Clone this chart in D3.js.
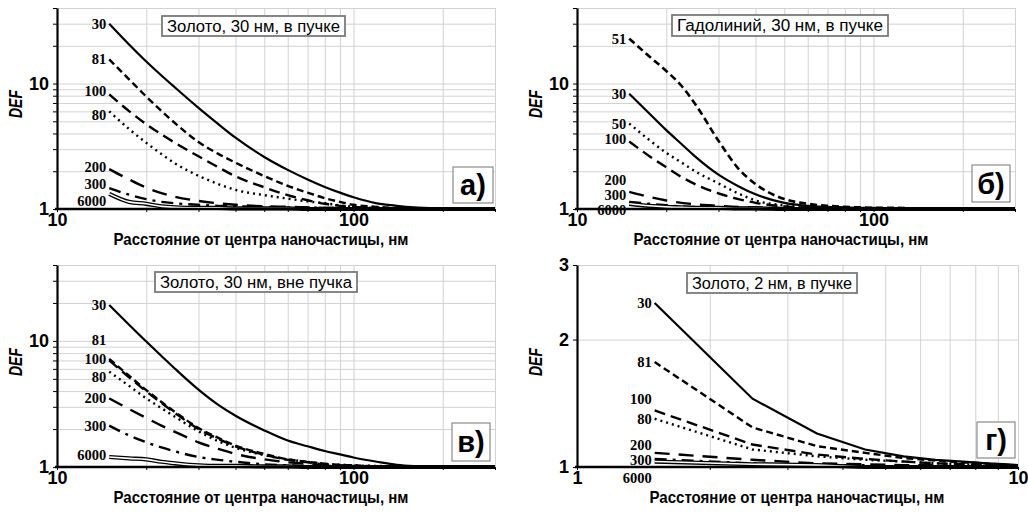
<!DOCTYPE html>
<html>
<head>
<meta charset="utf-8">
<script src="https://cdn.jsdelivr.net/npm/d3@7"></script>
<style>
  body { margin: 0; background: #fff; }
</style>
</head>
<body>
<svg id="chart" width="1028" height="516"></svg>
<script>
////////////////////////////////////////////////////////////////////////
// Data (DEF vs distance from nanoparticle centre)

// distance points, nm
const distLarge = [15, 17.5, 20, 22.5, 25, 30, 35, 40, 50, 60, 70, 80, 90, 100, 120, 140, 160, 200, 250, 300];
const distSmall = [1.5, 2.5, 3.5, 4.5, 5.5, 6.5, 7.5, 8.5, 9.5, 10];

// a) gold 30 nm, in beam
const auInLabels = ["30", "81", "100", "80", "200", "300", "6000"];
const auInValues = [
  [30, 20.5, 15, 11.6, 9.3, 6.4, 4.75, 3.7, 2.6, 2.05, 1.72, 1.5, 1.35, 1.24, 1.11, 1.06, 1.03, 1.01, 1.0, 1.0],
  [15.6, 10.8, 7.87, 6.04, 4.83, 3.42, 2.75, 2.34, 1.83, 1.53, 1.35, 1.22, 1.14, 1.08, 1.04, 1.02, 1.01, 1.0, 1.0, 1.0],
  [8.2, 6.03, 4.74, 3.93, 3.37, 2.63, 2.15, 1.82, 1.49, 1.29, 1.175, 1.10, 1.06, 1.04, 1.02, 1.01, 1.0, 1.0, 1.0, 1.0],
  [6.0, 4.34, 3.37, 2.74, 2.31, 1.84, 1.58, 1.42, 1.29, 1.21, 1.15, 1.11, 1.07, 1.04, 1.02, 1.01, 1.0, 1.0, 1.0, 1.0],
  [2.08, 1.72, 1.48, 1.34, 1.25, 1.16, 1.11, 1.08, 1.05, 1.04, 1.03, 1.02, 1.02, 1.01, 1.01, 1.0, 1.0, 1.0, 1.0, 1.0],
  [1.47, 1.3, 1.2, 1.14, 1.11, 1.08, 1.06, 1.05, 1.04, 1.03, 1.03, 1.02, 1.02, 1.01, 1.0, 1.0, 1.0, 1.0, 1.0, 1.0],
  [1.32, 1.14, 1.1, 1.05, 1.03, 1.02, 1.02, 1.01, 1.01, 1.01, 1.0, 1.0, 1.0, 1.0, 1.0, 1.0, 1.0, 1.0, 1.0, 1.0]
];

// б) gadolinium 30 nm, in beam
const gdInLabels = ["51", "30", "50", "100", "200", "300", "6000"];
const gdInValues = [
  [22.8, 16.5, 12.6, 9.6, 6.9, 3.5, 2.1, 1.58, 1.2, 1.1, 1.06, 1.04, 1.03, 1.02, 1.02, 1.01, 1.01, 1.0, 1.0, 1.0],
  [8.3, 5.8, 4.25, 3.3, 2.63, 1.88, 1.52, 1.31, 1.12, 1.06, 1.04, 1.03, 1.02, 1.02, 1.01, 1.01, 1.0, 1.0, 1.0, 1.0],
  [4.8, 3.56, 2.8, 2.35, 2.0, 1.6, 1.33, 1.17, 1.07, 1.04, 1.03, 1.02, 1.01, 1.01, 1.0, 1.0, 1.0, 1.0, 1.0, 1.0],
  [3.45, 2.65, 2.15, 1.8, 1.58, 1.33, 1.2, 1.12, 1.05, 1.03, 1.02, 1.02, 1.01, 1.01, 1.0, 1.0, 1.0, 1.0, 1.0, 1.0],
  [1.37, 1.25, 1.17, 1.12, 1.09, 1.06, 1.04, 1.03, 1.02, 1.01, 1.01, 1.0, 1.0, 1.0, 1.0, 1.0, 1.0, 1.0, 1.0, 1.0],
  [1.14, 1.1, 1.07, 1.05, 1.04, 1.03, 1.02, 1.02, 1.01, 1.0, 1.0, 1.0, 1.0, 1.0, 1.0, 1.0, 1.0, 1.0, 1.0, 1.0],
  [1.1, 1.06, 1.04, 1.03, 1.02, 1.02, 1.01, 1.01, 1.0, 1.0, 1.0, 1.0, 1.0, 1.0, 1.0, 1.0, 1.0, 1.0, 1.0, 1.0]
];

// в) gold 30 nm, outside beam
const auOutLabels = ["30", "81", "100", "80", "200", "300", "6000"];
const auOutValues = [
  [19.3, 13.45, 9.89, 7.6, 6.02, 4.11, 3.11, 2.55, 1.95, 1.62, 1.46, 1.34, 1.26, 1.19, 1.10, 1.04, 1.015, 1.0, 1.0, 1.0],
  [7.2, 5.29, 4.07, 3.28, 2.73, 2.04, 1.70, 1.48, 1.27, 1.15, 1.10, 1.06, 1.04, 1.03, 1.01, 1.0, 1.0, 1.0, 1.0, 1.0],
  [7.0, 5.15, 3.98, 3.22, 2.68, 2.0, 1.67, 1.46, 1.25, 1.14, 1.09, 1.05, 1.03, 1.02, 1.01, 1.0, 1.0, 1.0, 1.0, 1.0],
  [5.7, 4.4, 3.5, 2.93, 2.5, 1.92, 1.6, 1.42, 1.24, 1.15, 1.1, 1.06, 1.04, 1.03, 1.02, 1.01, 1.0, 1.0, 1.0, 1.0],
  [3.5, 2.88, 2.45, 2.13, 1.9, 1.57, 1.39, 1.27, 1.15, 1.09, 1.06, 1.04, 1.03, 1.02, 1.01, 1.0, 1.0, 1.0, 1.0, 1.0],
  [2.13, 1.78, 1.57, 1.43, 1.33, 1.2, 1.14, 1.1, 1.05, 1.03, 1.02, 1.02, 1.01, 1.0, 1.0, 1.0, 1.0, 1.0, 1.0, 1.0],
  [1.2, 1.17, 1.15, 1.1, 1.07, 1.03, 1.02, 1.02, 1.01, 1.01, 1.0, 1.0, 1.0, 1.0, 1.0, 1.0, 1.0, 1.0, 1.0, 1.0]
];

// г) gold 2 nm, in beam
const auSmallLabels = ["30", "81", "100", "80", "200", "300", "6000"];
const auSmallValues = [
  [2.44, 1.45, 1.2, 1.1, 1.06, 1.04, 1.03, 1.02, 1.015, 1.01],
  [1.77, 1.24, 1.12, 1.08, 1.05, 1.035, 1.025, 1.02, 1.01, 1.01],
  [1.36, 1.13, 1.07, 1.045, 1.03, 1.02, 1.015, 1.01, 1.01, 1.0],
  [1.30, 1.10, 1.06, 1.04, 1.03, 1.02, 1.015, 1.01, 1.005, 1.0],
  [1.08, 1.04, 1.02, 1.015, 1.01, 1.01, 1.0, 1.0, 1.0, 1.0],
  [1.045, 1.02, 1.01, 1.01, 1.0, 1.0, 1.0, 1.0, 1.0, 1.0],
  [1.03, 1.015, 1.01, 1.0, 1.0, 1.0, 1.0, 1.0, 1.0, 1.0]
];

// axis ticks
const gridLarge = [10, 20, 30, 40, 50, 60, 70, 80, 90, 100, 200, 300];
const gridSmall = [1, 2, 3, 4, 5, 6, 7, 8, 9, 10];
const gridDef = [1, 2, 3, 4, 5, 6, 7, 8, 9, 10, 20, 30, 40];
const gridDefSmall = [1, 2, 3];
const labelsLarge = [10, 100];
const labelsSmall = [1, 10];
const labelsDef = [1, 10];
const labelsDefSmall = [1, 2, 3];

////////////////////////////////////////////////////////////////////////
// Line styles per curve label

const lineStyles = {
  "30":   { dash: null,         width: 2.2 },
  "81":   { dash: "7,4",        width: 2.4 },
  "51":   { dash: "7,4",        width: 2.6 },
  "100":  { dash: "11,6",       width: 2.4 },
  "80":   { dash: "2,4",        width: 2.4 },
  "50":   { dash: "2,4",        width: 2.4 },
  "200":  { dash: "15,9",       width: 2.4 },
  "300":  { dash: "12,6,3,6",   width: 2.4 },
  "6000": { dash: null,         width: 2.2, double: true }
};

const narrowFont = "'Liberation Sans Narrow', 'Arial Narrow', 'Liberation Sans', Arial, sans-serif";
const sansFont = "'Liberation Sans', Arial, sans-serif";
const serifFont = "'Liberation Serif', 'Times New Roman', serif";

const svg = d3.select("#chart");

/**
 * Draws one panel: grid, axes, curves, curve labels and captions.
 */
function makePanel(p)
{
  let g = svg.append("g");

  let xScale = d3.scaleLog().domain(p.xDomain).range(p.xRange);
  let yScale = d3.scaleLog().domain(p.yDomain).range(p.yRange);

  let bottom = p.yRange[0], top = p.yRange[1];
  let left = p.xRange[0], right = p.xRange[1];

  // light grid via axes with negative tick size
  g.append("g")
    .attr("transform", "translate(0," + bottom + ")")
    .call(d3.axisBottom(xScale).tickValues(p.xGrid).tickSize(-(bottom - top)).tickFormat(""))
    .call(s => s.select(".domain").remove())
    .selectAll("line").attr("stroke", "#d2d2d2").attr("stroke-width", 1);

  g.append("g")
    .attr("transform", "translate(" + left + ",0)")
    .call(d3.axisLeft(yScale).tickValues(p.yGrid).tickSize(-(right - left)).tickFormat(""))
    .call(s => s.select(".domain").remove())
    .selectAll("line").attr("stroke", "#d2d2d2").attr("stroke-width", 1);

  // curves (smooth for the 30 nm panels, straight segments for 2 nm)
  let line = d3.line()
    .x((d, i) => xScale(p.xs[i]))
    .y(d => yScale(d))
    .curve(p.smooth ? d3.curveMonotoneX : d3.curveLinear);

  let curves = g.append("g");
  p.values.forEach((vals, k) => {
    let st = lineStyles[p.labels[k]];
    if (st.double) {
      curves.append("path").attr("d", line(vals)).attr("fill", "none")
        .attr("stroke", "#000").attr("stroke-width", 4.2);
      curves.append("path").attr("d", line(vals)).attr("fill", "none")
        .attr("stroke", "#fff").attr("stroke-width", 1.6);
    } else {
      curves.append("path").attr("d", line(vals)).attr("fill", "none")
        .attr("stroke", "#000").attr("stroke-width", st.width)
        .attr("stroke-dasharray", st.dash);
    }
  });

  // curve labels at the start of each curve
  g.append("g").selectAll("text")
    .data(p.labels)
    .join("text")
    .attr("x", xScale(p.xs[0]) - 3)
    .attr("y", (d, k) => yScale(p.values[k][0]) + (p.labelShift[k] || 0))
    .attr("dy", "0.35em")
    .attr("text-anchor", "end")
    .attr("font-family", serifFont)
    .attr("font-weight", "bold")
    .attr("font-size", 14.5)
    .text(d => d);

  // x axis
  let xAxis = g.append("g")
    .attr("transform", "translate(0," + bottom + ")")
    .call(d3.axisBottom(xScale).tickValues(p.xGrid).tickSize(3).tickSizeOuter(0).tickPadding(1)
      .tickFormat(d => p.xLabels.includes(d) ? d : ""));
  xAxis.select(".domain").attr("stroke-width", 2.6)
    .attr("d", "M" + (left - 2) + ",0H" + right);
  xAxis.selectAll("text")
    .attr("font-family", sansFont).attr("font-weight", "bold").attr("font-size", 18).attr("fill", "#000");

  // y axis
  let yAxis = g.append("g")
    .attr("transform", "translate(" + left + ",0)")
    .call(d3.axisLeft(yScale).tickValues(p.yGrid).tickSize(4).tickSizeOuter(0).tickPadding(4)
      .tickFormat(d => p.yLabels.includes(d) ? d : ""));
  yAxis.select(".domain").attr("stroke-width", 2.2);
  yAxis.selectAll("text")
    .attr("font-family", sansFont).attr("font-weight", "bold").attr("font-size", 18).attr("fill", "#000");

  // axis titles
  g.append("text")
    .attr("x", p.titleX).attr("y", bottom + 36)
    .attr("text-anchor", "middle")
    .attr("font-family", narrowFont).attr("font-weight", "bold").attr("font-size", 17)
    .attr("textLength", 295).attr("lengthAdjust", "spacingAndGlyphs")
    .text("Расстояние от центра наночастицы, нм");

  g.append("text")
    .attr("transform", "translate(" + (left - 35) + "," + (bottom - 105) + ") rotate(-90)")
    .attr("text-anchor", "middle")
    .attr("font-family", narrowFont).attr("font-weight", "bold").attr("font-style", "italic")
    .attr("font-size", 18)
    .attr("textLength", 28).attr("lengthAdjust", "spacingAndGlyphs")
    .text("DEF");

  // caption box
  let cb = p.caption;
  g.append("rect")
    .attr("x", cb.x).attr("y", cb.y).attr("width", cb.w).attr("height", cb.h)
    .attr("fill", "#fff").attr("stroke", "#7a7a7a").attr("stroke-width", 1.8);
  g.append("text")
    .attr("x", cb.x + cb.w / 2).attr("y", cb.y + cb.h / 2).attr("dy", "0.36em")
    .attr("text-anchor", "middle")
    .attr("font-family", sansFont).attr("font-size", 16)
    .attr("textLength", cb.w - 10).attr("lengthAdjust", "spacingAndGlyphs")
    .text(cb.text);

  // panel letter box
  let lb = p.letter;
  g.append("rect")
    .attr("x", lb.x).attr("y", lb.y).attr("width", lb.w).attr("height", lb.h)
    .attr("fill", "#fff").attr("stroke", "#8a8a8a").attr("stroke-width", 1.2);
  g.append("text")
    .attr("x", lb.x + lb.w / 2).attr("y", lb.y + lb.h / 2).attr("dy", "0.36em")
    .attr("text-anchor", "middle")
    .attr("font-family", narrowFont).attr("font-weight", "bold").attr("font-size", 29)
    .text(lb.text);
}

////////////////////////////////////////////////////////////////////////
// Panels

makePanel({
  xs: distLarge, labels: auInLabels, values: auInValues, smooth: true,
  labelShift: [0, 0, -3, 4, -2, -4, 7],
  xDomain: [10, 300], yDomain: [1, 40],
  xRange: [57, 495], yRange: [209, 8],
  xGrid: gridLarge, yGrid: gridDef, xLabels: labelsLarge, yLabels: labelsDef,
  titleX: 261,
  caption: { x: 162, y: 16, w: 183, h: 20, text: "Золото, 30 нм, в пучке" },
  letter: { x: 453, y: 167, w: 40, h: 36, text: "а)" }
});

makePanel({
  xs: distLarge, labels: gdInLabels, values: gdInValues, smooth: true,
  labelShift: [0, 0, 0, -3, -12, -7, 6],
  xDomain: [10, 300], yDomain: [1, 40],
  xRange: [577, 1015], yRange: [209, 8],
  xGrid: gridLarge, yGrid: gridDef, xLabels: labelsLarge, yLabels: labelsDef,
  titleX: 781,
  caption: { x: 672, y: 15, w: 216, h: 21, text: "Гадолиний, 30 нм, в пучке" },
  letter: { x: 972, y: 165, w: 38, h: 37, text: "б)" }
});

makePanel({
  xs: distLarge, labels: auOutLabels, values: auOutValues, smooth: true,
  labelShift: [0, -19, -2, 5, 0, 0, -2],
  xDomain: [10, 300], yDomain: [1, 40],
  xRange: [57, 495], yRange: [467, 265],
  xGrid: gridLarge, yGrid: gridDef, xLabels: labelsLarge, yLabels: labelsDef,
  titleX: 261,
  caption: { x: 155, y: 272, w: 202, h: 20, text: "Золото, 30 нм, вне пучка" },
  letter: { x: 452, y: 423, w: 38, h: 38, text: "в)" }
});

makePanel({
  xs: distSmall, labels: auSmallLabels, values: auSmallValues, smooth: false,
  labelShift: [0, 0, -12, 0, -8, 1, 16],
  xDomain: [1, 10], yDomain: [1, 3],
  xRange: [577, 1018], yRange: [467, 265],
  xGrid: gridSmall, yGrid: gridDefSmall, xLabels: labelsSmall, yLabels: labelsDefSmall,
  titleX: 797,
  caption: { x: 687, y: 273, w: 170, h: 20, text: "Золото, 2 нм, в пучке" },
  letter: { x: 977, y: 422, w: 38, h: 36, text: "г)" }
});
</script>
</body>
</html>
